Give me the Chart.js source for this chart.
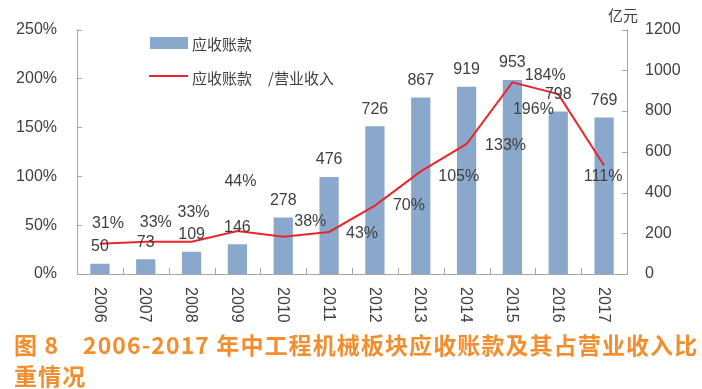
<!DOCTYPE html>
<html>
<head>
<meta charset="utf-8">
<script src="https://cdn.jsdelivr.net/npm/chart.js@4.4.0/dist/chart.umd.min.js"></script>
<style>
    body { margin: 0; background: #fff; }
    #wrap { position: relative; width: 702px; height: 389px; overflow: hidden; }
    #title {
        position: absolute; left: 14px; top: 329px; width: 700px;
        font: bold 23px "Noto Sans CJK SC"; color: #F28E2E;
        line-height: 31px; white-space: nowrap; letter-spacing: 1.1px;
    }
    #title .num { display: inline-block; width: 69px; }
</style>
</head>
<body>
<div id="wrap">
    <canvas id="chart" width="702" height="330"></canvas>
    <div id="title"><span class="num">图 8</span>2006-2017 年中工程机械板块应收账款及其占营业收入比<br>重情况</div>
</div>
<script>
// データ
const years = ['2006', '2007', '2008', '2009', '2010', '2011', '2012', '2013', '2014', '2015', '2016', '2017'];
const receivables = [50, 73, 109, 146, 278, 476, 726, 867, 919, 953, 798, 769];   // 亿元
const ratioPct = [31, 33, 33, 44, 38, 43, 70, 105, 133, 196, 184, 111];          // 应收账款/营业收入 %
const pctTicks = [0, 50, 100, 150, 200, 250];
const amountTicks = [0, 200, 400, 600, 800, 1000, 1200];

// % ラベルのずらし（元図の配置に合わせる）
const pctLabelShift = [
    [8, -20], [10, -19], [2, -29], [3, -49], [27, -15], [33, 2],
    [34, 0], [38, 5], [39, 2], [21, 27], [-13, -19], [-1, 11]
];

const TEXT = '#404040';
const AXIS = '#A6A6A6';
const BAR = '#89A8CB';
const RED = '#E8262B';
const NUM_FONT = '16px "Liberation Sans", Arial, sans-serif';
const CJK_FONT = '15px "Noto Sans CJK SC", sans-serif';

const decorPlugin = {
    id: 'decor',
    afterDatasetsDraw(chart) {
        const ctx = chart.ctx;
        const area = chart.chartArea;
        const x = chart.scales.x;
        const yL = chart.scales.y;
        const yR = chart.scales.y1;
        ctx.save();

        // 内向きの目盛り
        ctx.strokeStyle = AXIS;
        ctx.lineWidth = 1;
        ctx.beginPath();
        pctTicks.forEach(v => {
            const py = Math.round(yL.getPixelForValue(v)) + 0.5;
            ctx.moveTo(area.left, py); ctx.lineTo(area.left + 5, py);
        });
        amountTicks.forEach(v => {
            const py = Math.round(yR.getPixelForValue(v)) + 0.5;
            ctx.moveTo(area.right, py); ctx.lineTo(area.right - 5, py);
        });
        const step = (area.right - area.left) / years.length;
        for (let i = 1; i < years.length; i++) {
            const px = Math.round(area.left + i * step) + 0.5;
            ctx.moveTo(px, area.bottom); ctx.lineTo(px, area.bottom - 6);
        }
        ctx.stroke();

        // 数値ラベル
        ctx.fillStyle = TEXT;
        ctx.font = NUM_FONT;
        ctx.textAlign = 'center';
        ctx.textBaseline = 'middle';
        const barMeta = chart.getDatasetMeta(1);
        barMeta.data.forEach((bar, i) => {
            ctx.fillText(String(receivables[i]), bar.x, bar.y - 17);
        });
        const lineMeta = chart.getDatasetMeta(0);
        lineMeta.data.forEach((pt, i) => {
            const s = pctLabelShift[i];
            ctx.fillText(ratioPct[i] + '%', pt.x + s[0], pt.y + s[1]);
        });

        // X軸ラベル（時計回りに90度）
        ctx.textAlign = 'left';
        years.forEach((yr, i) => {
            ctx.save();
            ctx.translate(x.getPixelForValue(i) - 1, area.bottom + 13);
            ctx.rotate(Math.PI / 2);
            ctx.fillText(yr, 0, 0);
            ctx.restore();
        });

        // 凡例
        ctx.font = CJK_FONT;
        ctx.fillStyle = BAR;
        ctx.fillRect(150, 37, 38, 12);
        ctx.strokeStyle = RED;
        ctx.lineWidth = 2;
        ctx.beginPath();
        ctx.moveTo(149, 76); ctx.lineTo(188, 76);
        ctx.stroke();
        ctx.fillStyle = TEXT;
        ctx.fillText('应收账款', 192, 44);
        ctx.fillText('应收账款', 192, 78);
        ctx.fillText('/营业收入', 268, 78);

        // 単位
        ctx.textAlign = 'center';
        ctx.fillText('亿元', 623, 15);

        ctx.restore();
    }
};

const ctx = document.getElementById('chart');
new Chart(ctx, {
    data: {
        labels: years,
        datasets: [
            {
                type: 'line',
                label: '应收账款/营业收入',
                data: ratioPct,
                borderColor: RED,
                borderWidth: 2,
                pointRadius: 0,
                tension: 0,
                yAxisID: 'y',
                order: 0
            },
            {
                type: 'bar',
                label: '应收账款',
                data: receivables,
                backgroundColor: BAR,
                categoryPercentage: 1,
                barPercentage: 0.42,
                yAxisID: 'y1',
                order: 1
            }
        ]
    },
    options: {
        responsive: false,
        animation: false,
        layout: { padding: { top: 26, left: 0, right: 0, bottom: 0 } },
        plugins: {
            legend: { display: false },
            tooltip: { enabled: false }
        },
        scales: {
            x: {
                grid: { display: false },
                border: { display: true, color: AXIS },
                ticks: { display: false },
                afterFit(s) { s.height = 56; }
            },
            y: {
                position: 'left',
                min: 0,
                max: 250,
                grid: { display: false, drawTicks: false },
                border: { display: true, color: AXIS },
                ticks: {
                    stepSize: 50,
                    padding: 20,
                    color: TEXT,
                    font: { family: '"Liberation Sans", Arial, sans-serif', size: 16 },
                    callback: v => v + '%'
                },
                afterFit(s) { s.width = 77; }
            },
            y1: {
                position: 'right',
                min: 0,
                max: 1200,
                grid: { display: false, drawTicks: false },
                border: { display: true, color: AXIS },
                ticks: {
                    stepSize: 200,
                    padding: 18,
                    color: TEXT,
                    font: { family: '"Liberation Sans", Arial, sans-serif', size: 16 },
                    callback: v => String(v)
                },
                afterFit(s) { s.width = 75; }
            }
        }
    },
    plugins: [decorPlugin]
});
</script>
</body>
</html>
